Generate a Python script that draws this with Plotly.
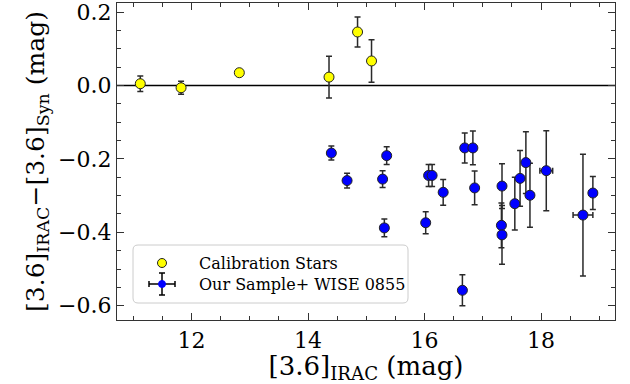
import plotly.graph_objects as go

# Calibration stars
cal_mag = [11.12, 11.82, 12.82, 14.36, 14.85, 15.09]
cal_diff = [0.005, -0.006, 0.035, 0.023, 0.146, 0.067]
cal_err = [0.021, 0.018, 0.004, 0.057, 0.041, 0.058]

# Our sample + WISE 0855
smp_mag = [14.40, 14.67, 15.28, 15.35, 15.31, 16.07, 16.13, 16.02, 16.32, 16.69,
           16.83, 16.86, 16.65, 17.33, 17.32, 17.33, 17.55, 17.64, 17.74, 17.81,
           18.09, 18.72, 18.89]
smp_diff = [-0.184, -0.259, -0.255, -0.191, -0.388, -0.245, -0.245, -0.374, -0.291, -0.170,
            -0.170, -0.279, -0.558, -0.274, -0.381, -0.407, -0.322, -0.253, -0.210, -0.299,
            -0.232, -0.353, -0.293]
smp_yerr = [0.019, 0.020, 0.023, 0.024, 0.024, 0.030, 0.030, 0.030, 0.035, 0.041,
            0.046, 0.046, 0.042, 0.061, 0.061, 0.080, 0.072, 0.076, 0.084, 0.087,
            0.109, 0.166, 0.045]
smp_xerr = [0.02, 0.02, 0.02, 0.02, 0.02, 0.03, 0.03, 0.03, 0.03, 0.03,
            0.03, 0.03, 0.03, 0.04, 0.04, 0.05, 0.04, 0.04, 0.05, 0.06,
            0.11, 0.17, 0.06]

FONT = "DejaVu Serif"
ECOL = "#2a2a2a"

fig = go.Figure()

fig.add_trace(go.Scatter(
    x=cal_mag, y=cal_diff, mode="markers", name="Calibration Stars",
    marker=dict(color="#ffff00", size=10, line=dict(color="#222222", width=1)),
    error_y=dict(type="data", array=cal_err, color=ECOL, thickness=1.5, width=3),
    showlegend=False,
))

fig.add_trace(go.Scatter(
    x=smp_mag, y=smp_diff, mode="markers", name="Our Sample+ WISE 0855",
    marker=dict(color="#0000ff", size=10, line=dict(color="#222222", width=1)),
    error_y=dict(type="data", array=smp_yerr, color=ECOL, thickness=1.5, width=3),
    error_x=dict(type="data", array=smp_xerr, color=ECOL, thickness=1.5, width=3),
    showlegend=False,
))

# zero reference line
fig.add_shape(type="line", xref="paper", x0=0, x1=1, yref="y", y0=0, y1=0,
              line=dict(color="black", width=1.5), layer="below")

# ---- legend box (drawn by hand so the error-bar glyph can be shown) ----
L, R, T, B = 117.0, 615.0, 3.0, 320.0
W, H = R - L, B - T


def px(x):
    return (x - L) / W


def py(y):
    return (B - y) / H


bx0, bx1, by0, by1, rad = 133, 408, 245, 303, 5
path = (f"M {px(bx0 + rad)},{py(by0)} L {px(bx1 - rad)},{py(by0)} "
        f"Q {px(bx1)},{py(by0)} {px(bx1)},{py(by0 + rad)} "
        f"L {px(bx1)},{py(by1 - rad)} Q {px(bx1)},{py(by1)} {px(bx1 - rad)},{py(by1)} "
        f"L {px(bx0 + rad)},{py(by1)} Q {px(bx0)},{py(by1)} {px(bx0)},{py(by1 - rad)} "
        f"L {px(bx0)},{py(by0 + rad)} Q {px(bx0)},{py(by0)} {px(bx0 + rad)},{py(by0)} Z")
fig.add_shape(type="path", xref="paper", yref="paper", path=path,
              fillcolor="rgba(255,255,255,0.85)", line=dict(color="#cccccc", width=1))

ix, r1, r2 = 162, 263, 284
# yellow circle icon
fig.add_shape(type="circle", xref="paper", yref="paper",
              x0=px(ix - 4.5), x1=px(ix + 4.5), y0=py(r1 + 4.5), y1=py(r1 - 4.5),
              fillcolor="#ffff00", line=dict(color="#222222", width=1))
# blue error-bar icon
for (xa, ya, xb, yb) in [(ix - 13, r2, ix + 13, r2), (ix, r2 - 11, ix, r2 + 11),
                         (ix - 13, r2 - 3, ix - 13, r2 + 3), (ix + 13, r2 - 3, ix + 13, r2 + 3),
                         (ix - 3, r2 - 11, ix + 3, r2 - 11), (ix - 3, r2 + 11, ix + 3, r2 + 11)]:
    fig.add_shape(type="line", xref="paper", yref="paper",
                  x0=px(xa), y0=py(ya), x1=px(xb), y1=py(yb),
                  line=dict(color="black", width=1.5))
fig.add_shape(type="circle", xref="paper", yref="paper",
              x0=px(ix - 3.5), x1=px(ix + 3.5), y0=py(r2 + 3.5), y1=py(r2 - 3.5),
              fillcolor="#0000ff", line=dict(color="#0000ff", width=1))

for txt, yy in [("Calibration Stars", r1), ("Our Sample+ WISE 0855", r2)]:
    fig.add_annotation(xref="paper", yref="paper", x=px(197), y=py(yy), text=txt,
                       showarrow=False, xanchor="left", yanchor="middle",
                       font=dict(family=FONT, size=16, color="black"))

axis_common = dict(
    showline=True, linecolor="#333333", linewidth=1.2, mirror="allticks",
    ticks="inside", ticklen=7, tickwidth=1.2, tickcolor="#333333",
    showgrid=False, zeroline=False, ticklabeloverflow="allow", automargin=False,
    tickfont=dict(family=FONT, size=22, color="black"),
)

fig.update_layout(
    width=630, height=384,
    margin=dict(l=117, r=15, t=3, b=64),
    paper_bgcolor="white", plot_bgcolor="white",
    showlegend=False,
    xaxis=dict(
        range=[10.72, 19.27], tick0=0, dtick=2,
        minor=dict(dtick=0.5, ticks="inside", ticklen=3.5, tickcolor="#333333", tickwidth=1),
        title=dict(text="[3.6]<sub>IRAC</sub> (mag)", font=dict(family=FONT, size=26, color="black"),
                   standoff=3),
        **axis_common,
    ),
    yaxis=dict(
        range=[-0.639, 0.225], tick0=0, dtick=0.2, tickformat=".1f",
        minor=dict(dtick=0.05, ticks="inside", ticklen=3.5, tickcolor="#333333", tickwidth=1),
        title=dict(text="[3.6]<sub>IRAC</sub>\u2212[3.6]<sub>Syn</sub> (mag)",
                   font=dict(family=FONT, size=25, color="black"), standoff=6),
        **axis_common,
    ),
)

fig.write_html("out.html")
